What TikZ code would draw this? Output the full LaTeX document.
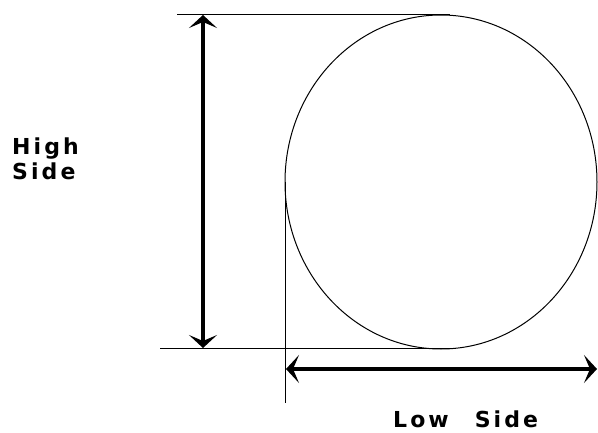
\documentclass[tikz,border=0pt]{standalone}
\usepackage{fontspec}
\setmainfont{DejaVu Sans}
\usetikzlibrary{arrows.meta,shapes.geometric}
\begin{document}
\begin{tikzpicture}[x=1pt,y=-1pt,
  thin line/.style={line width=1pt,black},
  dim arrow/.style={line width=4.5pt,{Stealth[length=13pt,width=28pt,inset=6pt]}-{Stealth[length=13pt,width=28pt,inset=6pt]}},
  lbl/.style={font=\bfseries\fontsize{22}{25}\selectfont\addfontfeatures{LetterSpace=14}, inner sep=0pt}]
\fill[white] (0,0) rectangle (598,433);
\useasboundingbox (0,0) rectangle (598,433);
% ellipse
\node[draw, line width=1pt, ellipse, minimum width=312pt, minimum height=334pt, inner sep=0pt, outer sep=0pt] (e) at (441,182) {};
% reference lines
\coordinate (tl) at (177,15);
\coordinate (tr) at (450,15);
\coordinate (bl) at (160,348);
\coordinate (br) at (450,348);
\coordinate (vt) at (285,182);
\coordinate (vb) at (285,403);
\draw[thin line] (tl) -- (tr);
\draw[thin line] (bl) -- (br);
\draw[thin line] (vt) -- (vb);
% dimension arrows
\coordinate (ha) at (203,15);
\coordinate (hb) at (203,348);
\draw[dim arrow] (ha) -- (hb);
\coordinate (la) at (286,369);
\coordinate (lb) at (597,369);
\draw[dim arrow] (la) -- (lb);
% labels
\node[lbl, anchor=base west, align=left] (high) at (12,180) {High\\Side};
\node[lbl, anchor=base west] (low) at (393,427) {Low\hspace{26pt}Side};
\end{tikzpicture}
\end{document}
